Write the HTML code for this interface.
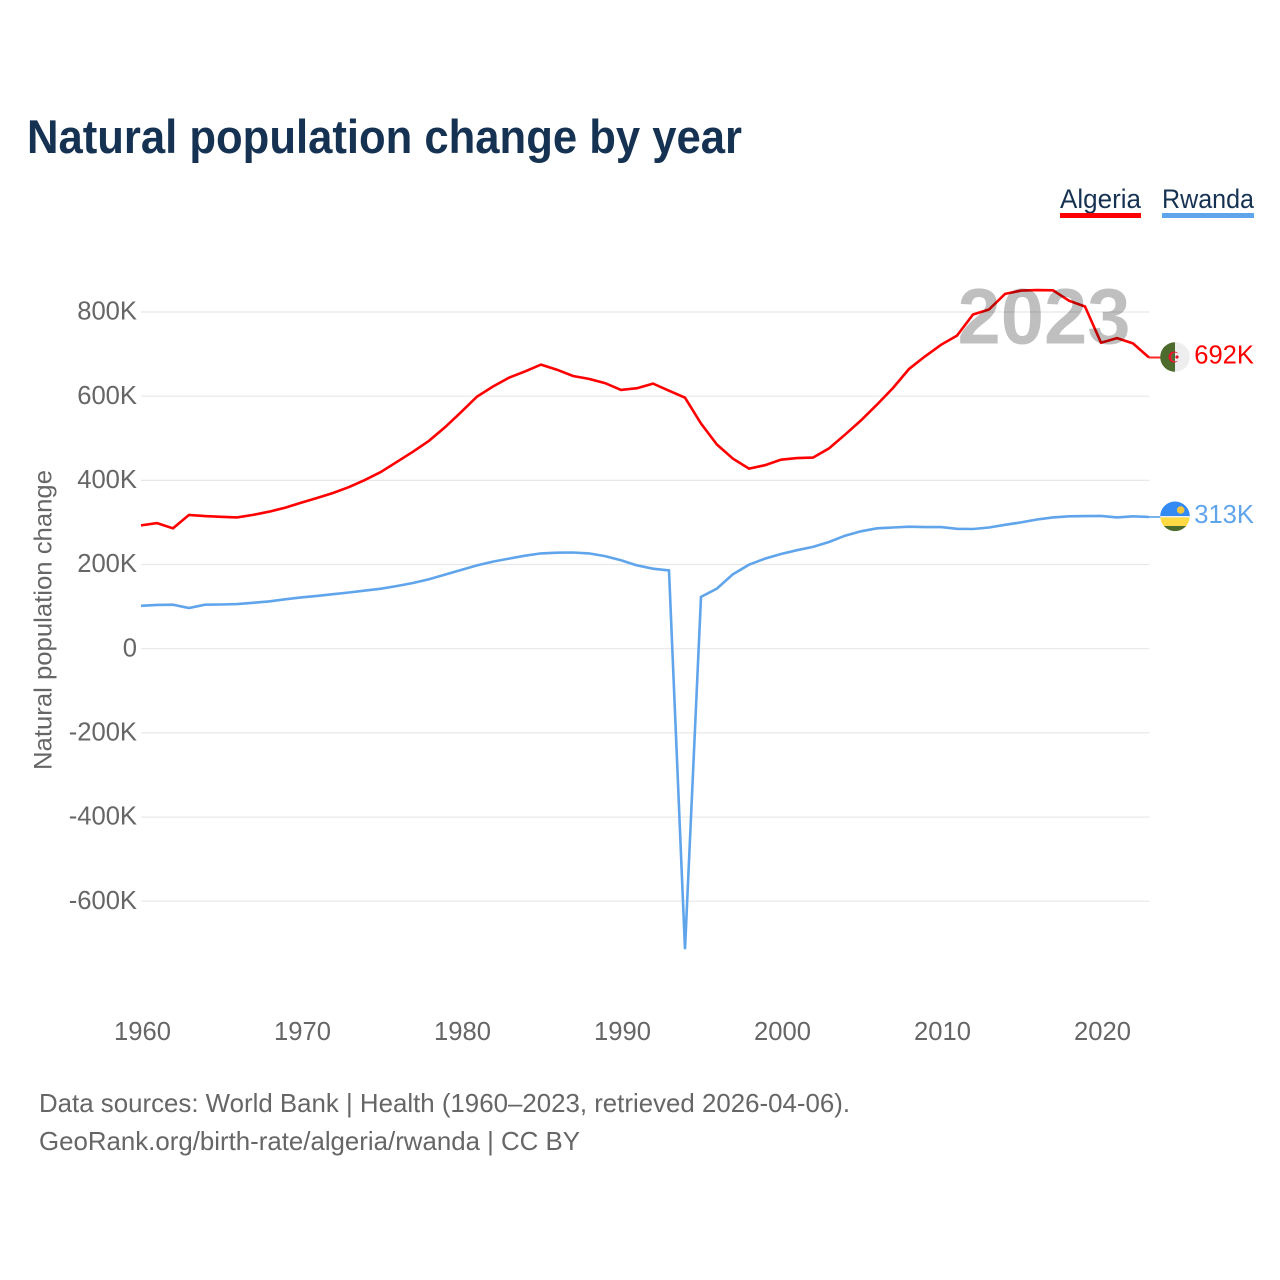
<!DOCTYPE html>
<html lang="en">
<head>
<meta charset="utf-8">
<title>Natural population change by year</title>
<style>
html,body{margin:0;padding:0;background:#fff;}
svg{display:block;font-family:"Liberation Sans",sans-serif;}
</style>
</head>
<body>
<svg id="chart" width="1280" height="1280" viewBox="0 0 1280 1280" xmlns="http://www.w3.org/2000/svg">
  <defs>
    <clipPath id="clip-a"><circle cx="1175" cy="357" r="14.8"/></clipPath>
    <clipPath id="clip-r"><circle cx="1175" cy="516.3" r="14.8"/></clipPath>
  </defs>
  <rect width="1280" height="1280" fill="#fff"/>
  <text x="27" y="153" font-size="47" font-weight="700" fill="#163253" textLength="715" lengthAdjust="spacingAndGlyphs">Natural population change by year</text>

  <g>
    <text x="1060" y="208" font-size="27" fill="#163253" textLength="81" lengthAdjust="spacingAndGlyphs">Algeria</text>
    <rect x="1060" y="213" width="81" height="5" fill="#ff0000"/>
  </g>
  <g>
    <text x="1162" y="208" font-size="27" fill="#163253" textLength="92" lengthAdjust="spacingAndGlyphs">Rwanda</text>
    <rect x="1162" y="213" width="92" height="5" fill="#60a5ec"/>
  </g>

  <text transform="translate(51.5 770) rotate(-90)" font-size="25" fill="#666" textLength="300" lengthAdjust="spacingAndGlyphs">Natural population change</text>

  <g id="grid"></g>
  <g id="yticks"></g>
  <g id="xticks"></g>
  <g id="series"></g>

  <text x="1044" y="343.5" font-size="79" font-weight="700" fill="#000" fill-opacity="0.25" text-anchor="middle" textLength="173" lengthAdjust="spacingAndGlyphs">2023</text>

  <g>
    <g clip-path="url(#clip-a)">
      <rect x="1160" y="342" width="15" height="30" fill="#4e6b2e"/>
      <rect x="1175" y="342" width="15" height="30" fill="#eeeeee"/>
      <circle cx="1174" cy="357" r="5.5" fill="#e8112d"/>
      <circle cx="1175.6" cy="357" r="4.4" fill="#eeeeee"/>
      <path d="M1175 352.64 A4.4 4.4 0 0 0 1175 361.36 Z" fill="#4e6b2e"/>
      <circle cx="1177" cy="357" r="1.6" fill="#e8112d"/>
    </g>
  </g>
  <g>
    <g clip-path="url(#clip-r)">
      <rect x="1160" y="501" width="30" height="15" fill="#338af3"/>
      <rect x="1160" y="516" width="30" height="1.4" fill="#eeeeee"/>
      <rect x="1160" y="517.4" width="30" height="8.6" fill="#ffda44"/>
      <rect x="1160" y="526" width="30" height="6" fill="#4e6b2e"/>
      <circle cx="1180.7" cy="510" r="3.8" fill="#f5c63c"/>
    </g>
  </g>
  <g id="endlabels"></g>

  <text x="39" y="1112" font-size="26" fill="#666" textLength="811" lengthAdjust="spacingAndGlyphs">Data sources: World Bank | Health (1960–2023, retrieved 2026-04-06).</text>
  <text x="39" y="1150" font-size="26" fill="#666" textLength="541" lengthAdjust="spacingAndGlyphs">GeoRank.org/birth-rate/algeria/rwanda | CC BY</text>
</svg>
<script>
const startYear = 1960;
const xTickYears = [1960, 1970, 1980, 1990, 2000, 2010, 2020];
const yTickValues = [800, 600, 400, 200, 0, -200, -400, -600];
const yTickLabels = ["800K", "600K", "400K", "200K", "0", "-200K", "-400K", "-600K"];
const algeriaValues = [293, 298.5, 286, 318, 315, 313.5, 312, 318, 325.5, 335, 347, 358, 370, 384, 401, 420, 444, 468, 494, 526, 562, 599, 623, 644, 659, 675, 663, 648, 641, 631, 615, 619, 630, 613, 596.5, 535, 485, 451.5, 428, 436, 449, 453, 454, 476, 508.5, 542.5, 580, 619.5, 664.5, 694.6, 722, 744, 794, 806, 843, 851, 852, 851.5, 827, 813, 727, 738, 725.5, 692];
const rwandaValues = [102, 104, 104.5, 96.6, 104.5, 105, 106, 109, 112.5, 117.5, 122, 125.5, 129.5, 133.5, 138, 142.5, 149, 156, 165, 176, 187, 198, 207, 214, 221, 226.5, 228, 228.5, 226.5, 220, 210, 198, 190, 186, -714, 123, 143, 177, 199.6, 214, 225, 234, 242, 253.5, 268.5, 279, 286, 288, 290, 289, 289, 285, 284.5, 288, 294.5, 300, 307, 312, 314.5, 315, 315.5, 312, 314.5, 313];
const endLabels = ["692K", "313K"];

const NS = "http://www.w3.org/2000/svg";
const plotLeft = 141, plotRight = 1149.5;
function xPos(year) { return 141 + (year - 1960) * 16; }
function yPos(value) { return 648.7 - value * 0.42085; }
function make(tag, attrs, parent) {
  const el = document.createElementNS(NS, tag);
  for (const k in attrs) el.setAttribute(k, attrs[k]);
  parent.appendChild(el);
  return el;
}

const grid = document.getElementById("grid");
const yticks = document.getElementById("yticks");
yTickValues.forEach((v, i) => {
  const line = make("line", {x1: plotLeft, x2: plotRight, y1: yPos(v), y2: yPos(v), stroke: "#e8e8e8", "stroke-width": 1.2}, grid);
  
  
  const t = make("text", {x: 137, y: yPos(v) + 7.6, "text-anchor": "end", "font-size": 25.6, fill: "#666"}, yticks);
  
  
  t.textContent = yTickLabels[i];
});

const xticks = document.getElementById("xticks");
xTickYears.forEach(y => {
  const t = make("text", {x: xPos(y) + 1.5, y: 1040, "text-anchor": "middle", "font-size": 25.6, fill: "#666"}, xticks);
  
  
  t.textContent = y;
});

const series = document.getElementById("series");
function drawSeries(values, color, name) {
  const pts = values.map((v, i) => xPos(startYear + i).toFixed(1) + "," + yPos(v).toFixed(1)).join(" ");
  const lastY = yPos(values[values.length - 1]).toFixed(1);
  const last = xPos(startYear + values.length - 1);
  const poly = make("polyline", {points: pts, fill: "none", stroke: color, "stroke-width": 2.6, "stroke-linejoin": "miter"}, series);
  
  
  const conn = make("line", {x1: last, x2: 1161, y1: lastY, y2: lastY, stroke: color, "stroke-width": 2, "stroke-opacity": 0.85}, series);
  
  
}
drawSeries(algeriaValues, "#ff0000", "series-line-algeria");
drawSeries(rwandaValues, "#60a5ec", "series-line-rwanda");

const endGroup = document.getElementById("endlabels");
[[algeriaValues, "#ff0000"], [rwandaValues, "#60a5ec"]].forEach((s, i) => {
  const lastVal = s[0][s[0].length - 1];
  const t = make("text", {x: 1254, y: yPos(lastVal) + 6, "text-anchor": "end", "font-size": 25.6, fill: s[1]}, endGroup);
  
  
  t.textContent = endLabels[i];
});
</script>
</body>
</html>
